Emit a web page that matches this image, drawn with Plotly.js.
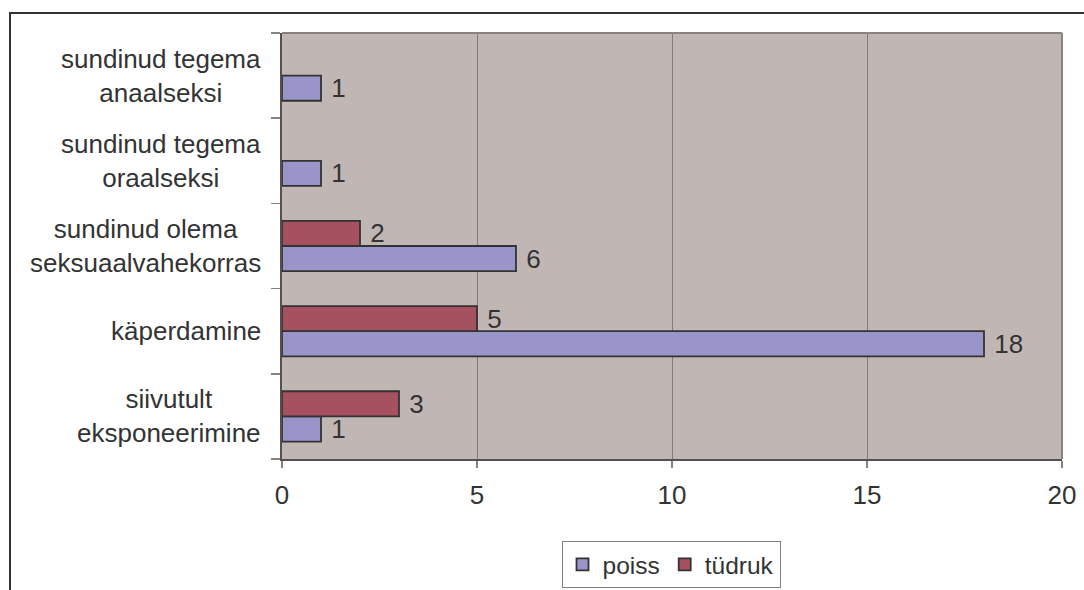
<!DOCTYPE html>
<html>
<head>
<meta charset="utf-8">
<script src="https://cdn.plot.ly/plotly-3.0.1.min.js"></script>
<style>
  html, body { margin: 0; padding: 0; background: #ffffff; }
  #chart { width: 1084px; height: 590px; }
</style>
</head>
<body>
<div id="chart"></div>
<script>
// Categories (bottom to top)
const categories = [
  "siivutult<br>eksponeerimine",
  "käperdamine",
  "sundinud olema<br>seksuaalvahekorras",
  "sundinud tegema<br>oraalseksi",
  "sundinud tegema<br>anaalseksi"
];
const seriesNames = ["poiss", "tüdruk"];
const poissValues = [1, 18, 6, 1, 1];
const tudrukValues = [3, 5, 2, null, null];
const xTickValues = [0, 5, 10, 15, 20];

const FONT = '"Liberation Sans", Arial, sans-serif';
const TEXT_COLOR = '#333333';
const FS = 26;

function barTrace(name, values, color) {
  return {
    type: 'bar',
    orientation: 'h',
    name: name,
    y: categories,
    x: values,
    text: values.map(v => (v === null ? '' : '\u00a0' + String(v))),
    textposition: 'outside',
    constraintext: 'none',
    cliponaxis: false,
    textfont: { family: FONT, size: FS, color: TEXT_COLOR },
    marker: { color: color, line: { color: '#333333', width: 1.8 } },
    hoverinfo: 'skip'
  };
}

const data = [
  barTrace(seriesNames[0], poissValues, '#9a95c9'),
  barTrace(seriesNames[1], tudrukValues, '#a5515f')
];

const plotLeft = 282, plotRight = 1062, plotTop = 33, plotBottom = 459;
const W = 1084, H = 590;
const pw = plotRight - plotLeft, ph = plotBottom - plotTop;
const px = x => (x - plotLeft) / pw;
const py = y => (plotBottom - y) / ph;

const annotations = categories.map(c => ({
  xref: 'paper', yref: 'y',
  x: px(263), y: c,
  xanchor: 'right', yanchor: 'middle',
  align: 'center',
  text: c,
  showarrow: false,
  font: { family: FONT, size: FS, color: TEXT_COLOR }
}));

const layout = {
  width: W, height: H,
  margin: { l: plotLeft, r: W - plotRight, t: plotTop, b: H - plotBottom, pad: 0, autoexpand: false },
  paper_bgcolor: '#ffffff',
  plot_bgcolor: '#c0b7b4',
  barmode: 'group',
  bargap: 0.41,
  bargroupgap: 0,
  font: { family: FONT, size: FS, color: TEXT_COLOR },
  showlegend: true,
  legend: {
    orientation: 'h',
    xref: 'container', yref: 'container',
    x: 671 / W, xanchor: 'center',
    y: 1 - 541 / H, yanchor: 'top',
    bgcolor: '#ffffff',
    bordercolor: '#808080',
    borderwidth: 1,
    font: { family: FONT, size: 24.5, color: TEXT_COLOR },
    traceorder: 'normal'
  },
  xaxis: {
    range: [0, 20],
    tickvals: xTickValues,
    ticktext: xTickValues.map(String),
    ticks: 'outside',
    ticklen: 7,
    tickwidth: 1.5,
    tickcolor: '#8a8080',
    ticklabelstandoff: 5,
    showgrid: true,
    gridcolor: '#847a78',
    gridwidth: 1,
    zeroline: false,
    showline: true,
    linecolor: '#574e4e',
    linewidth: 2,
    tickfont: { family: FONT, size: FS, color: TEXT_COLOR },
    fixedrange: true
  },
  yaxis: {
    type: 'category',
    ticks: 'outside',
    tickson: 'boundaries',
    ticklen: 9,
    tickwidth: 1.5,
    tickcolor: '#8a8080',
    showticklabels: false,
    showgrid: false,
    zeroline: false,
    showline: true,
    linecolor: '#574e4e',
    linewidth: 2,
    fixedrange: true
  },
  annotations: annotations,
  shapes: [
    { type: 'line', xref: 'paper', yref: 'paper', x0: 0, x1: 1, y0: 1, y1: 1,
      line: { color: '#8c8282', width: 2 }, layer: 'above' },
    { type: 'line', xref: 'paper', yref: 'paper', x0: 1, x1: 1, y0: 0, y1: 1,
      line: { color: '#8c8282', width: 2 }, layer: 'above' },
    { type: 'rect', xref: 'paper', yref: 'paper',
      x0: px(10), x1: px(1100), y0: py(620), y1: py(13),
      line: { color: '#333333', width: 2 }, fillcolor: 'rgba(0,0,0,0)', layer: 'above' }
  ]
};

Plotly.newPlot('chart', data, layout, { displayModeBar: false, staticPlot: true });
</script>
</body>
</html>
